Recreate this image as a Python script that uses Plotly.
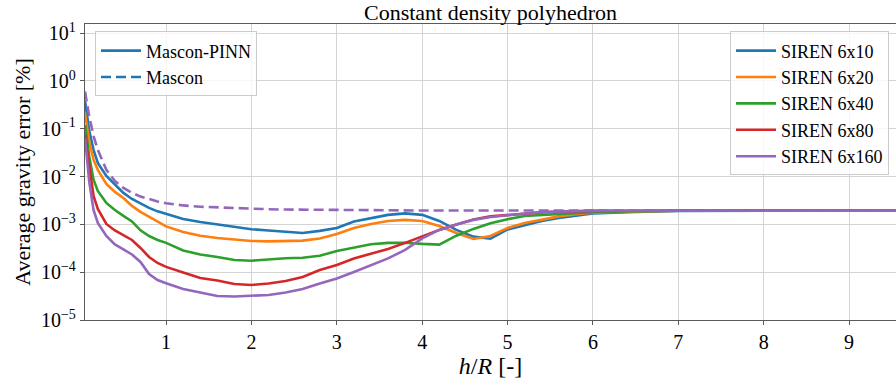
import plotly.graph_objects as go

# ---------------- data ----------------
h = [0.05, 0.1, 0.15, 0.2, 0.3, 0.4, 0.5, 0.6, 0.7, 0.8, 0.9, 1.0,
     1.2, 1.4, 1.6, 1.8, 2.0, 2.2, 2.4, 2.6, 2.8, 3.0, 3.2, 3.4, 3.6, 3.8,
     4.0, 4.2, 4.4, 4.6, 4.8, 5.0, 5.2, 5.4, 5.6, 5.8, 6.0, 6.5, 7.0, 8.0, 9.0, 10.0]

siren_6x10 = [0.384, 0.0904, 0.0361, 0.0193, 0.0103, 0.00668, 0.00455, 0.0034, 0.00274, 0.00221, 0.00187, 0.00166,
              0.0013, 0.00112, 0.000998, 0.000883, 0.000791, 0.000746, 0.000695, 0.000662, 0.00073, 0.000843,
              0.00115, 0.00136, 0.00158, 0.0017, 0.00158, 0.00118, 0.000766, 0.000553, 0.00050, 0.000783,
              0.000973, 0.00118, 0.00136, 0.00154, 0.0017, 0.00182, 0.00191, 0.00194, 0.00194, 0.00194]

siren_6x20 = [0.215, 0.0531, 0.0223, 0.0138, 0.00701, 0.00478, 0.00357, 0.00243, 0.00182, 0.00143, 0.00112, 0.000906,
              0.000695, 0.00058, 0.00052, 0.000484, 0.00045, 0.00044, 0.000444, 0.000457, 0.000508, 0.000631,
              0.000843, 0.00102, 0.00118, 0.00124, 0.00118, 0.000927, 0.000662, 0.000495, 0.000573, 0.000843,
              0.00107, 0.00127, 0.00147, 0.00163, 0.00176, 0.00187, 0.00192, 0.00194, 0.00194, 0.00194]

siren_6x40 = [0.12, 0.026, 0.0086, 0.0050, 0.0028, 0.002, 0.0015, 0.00115, 0.00075, 0.00057, 0.00047, 0.00041,
              0.000285, 0.000235, 0.000208, 0.00018, 0.000174, 0.000185, 0.000196, 0.000201, 0.000221, 0.000278,
              0.000331, 0.000385, 0.00041, 0.000413, 0.00039, 0.000378, 0.00058, 0.000804, 0.00105, 0.00128,
              0.0015, 0.00158, 0.00166, 0.00171, 0.0018, 0.00188, 0.00193, 0.00194, 0.00194, 0.00194]

siren_6x80 = [0.0745, 0.0193, 0.00394, 0.0021, 0.00102, 0.000746, 0.000601, 0.000472, 0.000321, 0.000208, 0.000156, 0.000129,
              9.86e-5, 7.57e-5, 6.71e-5, 5.66e-5, 5.41e-5, 5.81e-5, 6.55e-5, 7.94e-5, 0.000111, 0.000142,
              0.000194, 0.000247, 0.000306, 0.00041, 0.00056, 0.000766, 0.000998, 0.00127, 0.00147, 0.00158,
              0.0017, 0.00178, 0.00184, 0.00188, 0.00191, 0.00193, 0.00194, 0.00194, 0.00194, 0.00194]

siren_6x160 = [0.0644, 0.00773, 0.002, 0.00107, 0.000573, 0.00038, 0.000299, 0.000235, 0.000164, 9.18e-5, 6.87e-5, 5.86e-5,
               4.46e-5, 3.77e-5, 3.18e-5, 3.1e-5, 3.18e-5, 3.33e-5, 3.77e-5, 4.46e-5, 5.81e-5, 7.4e-5,
               0.000101, 0.000142, 0.000194, 0.000292, 0.000508, 0.000766, 0.000998, 0.00124, 0.00143, 0.00155,
               0.0017, 0.0018, 0.00185, 0.00189, 0.00191, 0.00193, 0.00194, 0.00194, 0.00194, 0.00194]

mascon = [0.6, 0.18, 0.071, 0.0361, 0.0138, 0.0081, 0.0058, 0.00455, 0.00381, 0.00333, 0.00302, 0.00277,
          0.00249, 0.00234, 0.00226, 0.00219, 0.0021, 0.00207, 0.00204, 0.00202, 0.002, 0.00199,
          0.00198, 0.00197, 0.00196, 0.00196, 0.00195, 0.00195, 0.00195, 0.00195, 0.00195, 0.00195,
          0.00194, 0.00194, 0.00194, 0.00194, 0.00194, 0.00194, 0.00194, 0.00194, 0.00194, 0.00194]

series_names = ["SIREN 6x10", "SIREN 6x20", "SIREN 6x40", "SIREN 6x80", "SIREN 6x160"]
series_values = [siren_6x10, siren_6x20, siren_6x40, siren_6x80, siren_6x160]
colors = ["#1f77b4", "#ff7f0e", "#2ca02c", "#d62728", "#9467bd"]

x_ticks = [1, 2, 3, 4, 5, 6, 7, 8, 9]
y_ticks = [1e-5, 1e-4, 1e-3, 1e-2, 1e-1, 1e0, 1e1]
y_tick_labels = ["10<sup>\u22125</sup>", "10<sup>\u22124</sup>", "10<sup>\u22123</sup>",
                 "10<sup>\u22122</sup>", "10<sup>\u22121</sup>", "10<sup>0</sup>", "10<sup>1</sup>"]

FONT = "Liberation Serif"

fig = go.Figure()

for name, vals, col in zip(series_names, series_values, colors):
    fig.add_trace(go.Scatter(x=h, y=vals, mode="lines", name=name,
                             line=dict(color=col, width=2.6), legend="legend2"))

# Mascon reference (dashed), drawn last in the last colour
fig.add_trace(go.Scatter(x=h, y=mascon, mode="lines", showlegend=False,
                         line=dict(color=colors[4], width=2.6, dash="10px,5px")))

# Style legend (first legend box)
fig.add_trace(go.Scatter(x=[None], y=[None], mode="lines", name="Mascon-PINN",
                         line=dict(color=colors[0], width=2.6), legend="legend"))
fig.add_trace(go.Scatter(x=[None], y=[None], mode="lines", name="Mascon",
                         line=dict(color=colors[0], width=2.6, dash="10px,5px"), legend="legend"))

axis_line = "#5a5a5a"
grid = "#d4d4d4"

fig.update_layout(
    width=896, height=381,
    margin=dict(l=85, r=0, t=24, b=61),
    paper_bgcolor="white", plot_bgcolor="white",
    font=dict(family=FONT, size=20, color="black"),
    title=dict(text="Constant density polyhedron", x=0.5, xref="paper",
               y=1 - 12 / 381, yref="container", xanchor="center", yanchor="middle",
               font=dict(family=FONT, size=22, color="black")),
    xaxis=dict(range=[0.05, 9.55], tickvals=x_ticks, showgrid=True, gridcolor=grid, gridwidth=1,
               zeroline=False, showline=True, linecolor=axis_line, linewidth=1.3, mirror=True,
               ticks="outside", ticklen=4, tickcolor=axis_line,
               tickfont=dict(family=FONT, size=20),
               title=dict(text="<i>h</i>/<i>R</i> [-]", font=dict(family=FONT, size=24), standoff=2)),
    yaxis=dict(type="log", range=[-5, 1.19], tickvals=y_ticks, ticktext=y_tick_labels,
               showgrid=True, gridcolor=grid, gridwidth=1, zeroline=False,
               showline=True, linecolor=axis_line, linewidth=1.3, mirror=False,
               ticks="outside", ticklen=4, tickcolor=axis_line,
               tickfont=dict(family=FONT, size=20),
               title=dict(text="Average gravity error [%]", font=dict(family=FONT, size=22), standoff=4)),
    legend=dict(x=0.0123, y=0.975, xanchor="left", yanchor="top",
                bgcolor="rgba(255,255,255,0.8)", bordercolor="#cccccc", borderwidth=1,
                font=dict(family=FONT, size=18), itemwidth=40, tracegroupgap=0),
    legend2=dict(x=0.9914, y=0.975, xanchor="right", yanchor="top",
                 bgcolor="rgba(255,255,255,0.8)", bordercolor="#cccccc", borderwidth=1,
                 font=dict(family=FONT, size=18), itemwidth=40, tracegroupgap=0),
)

fig.write_html("out.html", config={"displayModeBar": False},
               post_script="document.body.style.margin='0';document.body.style.overflow='hidden';")
